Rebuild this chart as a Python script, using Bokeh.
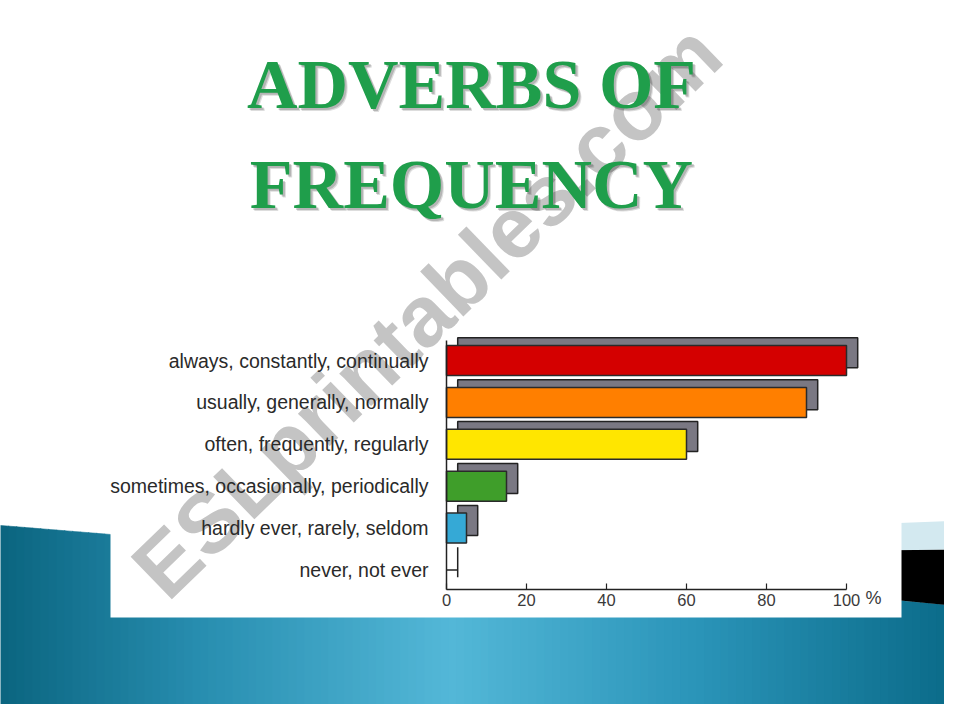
import numpy as np
from bokeh.plotting import figure
from bokeh.models import Range1d, LinearAxis, FixedTicker, Label
from bokeh.embed import file_html
from bokeh.resources import INLINE

# ---------------- data ----------------
categories = [
    "always, constantly, continually",
    "usually, generally, normally",
    "often, frequently, regularly",
    "sometimes, occasionally, periodically",
    "hardly ever, rarely, seldom",
    "never, not ever",
]
values = [100, 90, 60, 15, 5, 0]
bar_colors = ["#d40000", "#ff7f00", "#ffe600", "#3f9e2a", "#35a9d6", "#ffffff"]
x_ticks = [0, 20, 40, 60, 80, 100]
unit_label = "%"
title_lines = ["ADVERBS OF", "FREQUENCY"]
watermark_text = "ESLprintables.com"

# ---------------- geometry / styles ----------------
W, H = 944, 704
ROW_PX = 41.9          # pixels per row
PX_PER_PCT = 4.0       # pixels per percent
ZERO_X = 446           # page x of 0 %
ROW0_Y = 360           # page y of first row centre

x_start = (0 - ZERO_X) / PX_PER_PCT
x_end = (W - ZERO_X) / PX_PER_PCT
y_top = (0 - ROW0_Y) / ROW_PX
y_bot = (H - ROW0_Y) / ROW_PX

p = figure(width=W, height=H, output_backend="svg", toolbar_location=None,
           x_range=Range1d(x_start, x_end), y_range=Range1d(y_bot, y_top),
           x_axis_location=None, y_axis_location=None, min_border=0)
p.outline_line_color = None
p.background_fill_color = "white"
p.border_fill_color = "white"
p.extra_x_ranges = {"px": Range1d(0, W)}
p.extra_y_ranges = {"px": Range1d(H, 0)}

# ---------------- slide background ----------------
def top_edge(x):
    return np.interp(x, [0, 110, 900, 960], [525, 534, 600, 606])

grad_x = [0, 200, 450, 700, 960]
grad_c = [(11, 101, 128), (40, 142, 176), (84, 184, 216), (42, 148, 184), (10, 106, 136)]
xs, ys, cols = [], [], []
step = 8
for x0 in range(0, 960, step):
    x1 = x0 + step
    xm = (x0 + x1) / 2
    r, g, b = [int(np.interp(xm, grad_x, [c[k] for c in grad_c])) for k in range(3)]
    col = "#%02x%02x%02x" % (r, g, b)
    xs.append([x0, x1 + 0.6, x1 + 0.6, x0])
    ys.append([top_edge(x0), top_edge(x1), 725, 725])
    cols.append(col)
p.patches(xs, ys, fill_color=cols, line_color=cols, line_width=0.6,
          x_range_name="px", y_range_name="px", level="image")

p.patch([860, 960, 960, 860], [524, 520, 549, 550], fill_color="#d3e9f0",
        line_color=None, x_range_name="px", y_range_name="px", level="image")
p.patch([860, 960, 960, 900, 860], [550, 549, 606, 600, 597], fill_color="#000000",
        line_color=None, x_range_name="px", y_range_name="px", level="image")
p.quad(left=[110], right=[901], top=[290], bottom=[617], fill_color="white",
       line_color=None, x_range_name="px", y_range_name="px", level="image")

# ---------------- watermark ----------------
p.add_layout(Label(x=426, y=310, x_range_name="px", y_range_name="px",
                   text=watermark_text, angle=0.77, text_align="center",
                   text_baseline="middle", text_font="Liberation Sans",
                   text_font_style="bold", text_font_size="86px",
                   text_color="#c4c4c4", level="underlay"))

# ---------------- bars ----------------
rows = list(range(len(categories)))
half = 0.358
sdx, sdy = 2.8, -7.7 / ROW_PX
p.quad(left=[sdx] * len(values), right=[v + sdx for v in values],
       top=[r - half + sdy for r in rows], bottom=[r + half + sdy for r in rows],
       fill_color="#7a7883", line_color="#222222", line_width=1.5)
nz = [i for i, v in enumerate(values) if v > 0]
p.quad(left=[0] * len(nz), right=[values[i] for i in nz],
       top=[rows[i] - half for i in nz], bottom=[rows[i] + half for i in nz],
       fill_color=[bar_colors[i] for i in nz], line_color="#2a2a2a", line_width=1.5)
zr = [i for i, v in enumerate(values) if v == 0]
p.segment(x0=[0] * len(zr), x1=[sdx] * len(zr), y0=[rows[i] for i in zr],
          y1=[rows[i] for i in zr], line_color="#222222", line_width=1.5)

# ---------------- axes ----------------
axis_y = len(categories) - 1 + 0.473
xaxis = LinearAxis(fixed_location=axis_y, bounds=(0, 100),
                   ticker=FixedTicker(ticks=x_ticks))
xaxis.major_tick_in = 6
xaxis.major_tick_out = 0
xaxis.minor_tick_in = 0
xaxis.minor_tick_out = 0
xaxis.axis_line_color = "#222222"
xaxis.axis_line_width = 1.5
xaxis.major_tick_line_color = "#222222"
xaxis.major_tick_line_width = 1.2
xaxis.major_label_text_font = "Liberation Sans"
xaxis.major_label_text_font_size = "16.5px"
xaxis.major_label_text_color = "#3a3a3a"
xaxis.major_label_standoff = 4
p.add_layout(xaxis, "below")

yaxis = LinearAxis(fixed_location=0, bounds=(-0.477, axis_y),
                   ticker=FixedTicker(ticks=rows),
                   major_label_overrides={r: c for r, c in zip(rows, categories)})
yaxis.major_tick_in = 0
yaxis.major_tick_out = 0
yaxis.minor_tick_in = 0
yaxis.minor_tick_out = 0
yaxis.axis_line_color = "#222222"
yaxis.axis_line_width = 1.5
yaxis.major_label_text_font = "Liberation Sans"
yaxis.major_label_text_font_size = "19.5px"
yaxis.major_label_text_color = "#2a2a2a"
yaxis.major_label_standoff = 18
p.add_layout(yaxis, "left")

p.xgrid.visible = False
p.ygrid.visible = False

p.add_layout(Label(x=x_ticks[-1], y=axis_y + 0.2, x_offset=27, text=unit_label,
                   text_align="center", text_baseline="middle",
                   text_font="Liberation Sans", text_font_size="18px",
                   text_color="#3a3a3a"))

# ---------------- title ----------------
for line, yc, size in zip(title_lines, [84, 184], ["70px", "70px"]):
    for dx, a in [(3, 0.18), (2, 0.25)]:
        p.add_layout(Label(x=471, y=yc, x_offset=dx, y_offset=-dx,
                           x_range_name="px", y_range_name="px", text=line,
                           text_align="center", text_baseline="middle",
                           text_font="Liberation Serif", text_font_style="bold",
                           text_font_size=size, text_color="#404040", text_alpha=a))
    p.add_layout(Label(x=471, y=yc, x_range_name="px", y_range_name="px", text=line,
                       text_align="center", text_baseline="middle",
                       text_font="Liberation Serif", text_font_style="bold",
                       text_font_size=size, text_color="#1f9e4b"))

open("out.html", "w").write(file_html(p, INLINE))
